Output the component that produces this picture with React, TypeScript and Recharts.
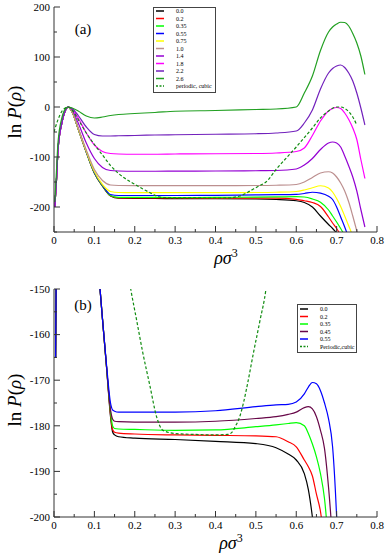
import React from "react";
import { LineChart, Line, XAxis, YAxis } from "recharts";

const FONT = "Liberation Serif, DejaVu Serif, serif";
const AXIS = "#333";

// ticks
const X_TICKS = [0, 0.05, 0.1, 0.15, 0.2, 0.25, 0.3, 0.35, 0.4, 0.45, 0.5, 0.55, 0.6, 0.65, 0.7, 0.75, 0.8];
const Y_TICKS_A = [-250, -200, -150, -100, -50, 0, 50, 100, 150, 200];
const Y_TICKS_B = [-200, -195, -190, -185, -180, -175, -170, -165, -160, -155, -150];

// panel (a): shared x grid for the solid curves
const X_A = [0, 0.002, 0.006, 0.01, 0.02, 0.03, 0.035, 0.045, 0.06, 0.08, 0.1, 0.12, 0.14, 0.16, 0.2, 0.25, 0.3, 0.4, 0.5, 0.55, 0.6, 0.62, 0.64, 0.66, 0.68, 0.69, 0.7, 0.71, 0.72, 0.73, 0.74, 0.75, 0.76, 0.77];
const A_00 = [null, -200, -148, -85, -30, -4, 0, -10, -44, -90, -132, -158, -178, -182.5, -182.8, -183, -183.1, -183.5, -184, -185, -187.5, -191, -200, -218, -235, -243, -252, -262, null, null, null, null, null, null];
const A_02 = [null, -200, -148, -85, -30, -4, 0, -10, -44, -90, -132, -158, -177.5, -181.6, -181.8, -181.9, -182, -182.1, -182.2, -182.4, -184.6, -187.5, -191, -199, -220, -232, -243, -256, -270, null, null, null, null, null];
const A_035 = [null, -200, -148, -85, -30, -4, 0, -10, -44, -90, -132, -158, -177, -180.7, -180.8, -180.9, -181, -180.9, -180.2, -179.8, -179.3, -180, -184, -190.5, -206, -218, -230, -243, -257, -272, null, null, null, null];
const A_055 = [null, -200, -148, -85, -30, -4, 0, -10, -44, -90, -131, -157, -175, -177, -177, -177, -177, -176.7, -175.8, -175.4, -174.8, -173, -170.5, -172.3, -178.5, -185, -200, -220, -240, -262, null, null, null, null];
const A_075 = [null, -200, -148, -85, -30, -4, 0, -10, -44, -89, -129, -155, -169, -171, -171.2, -171.3, -171.3, -171.2, -171, -170.5, -169, -166, -161.5, -157.5, -162, -170, -183, -199, -218, -238, -258, null, null, null];
const A_10 = [null, -200, -148, -85, -30, -4, 0, -9, -42, -86, -125, -147, -156, -157, -157.3, -157.3, -157.3, -157.2, -157, -156.5, -155, -150, -141, -132, -129.5, -132, -140, -152, -168, -190, -218, -248, -280, null];
const A_14 = [null, -200, -148, -85, -30, -4, 0, -6, -32, -72, -103, -121, -127, -128, -128.5, -128.5, -128.3, -128, -127.5, -127, -124, -116, -103, -85, -72, -70, -72, -80, -98, -118, -140, -168, -205, -240];
const A_18 = [null, -200, -148, -85, -30, -4, 0, -4, -22, -52, -76, -89, -93, -94, -94.5, -94.5, -94, -93.5, -93, -92, -89, -82, -57, -28, -8, -3, -1, -3, -12, -25, -42, -65, -105, -143];
const A_22 = [null, -200, -148, -85, -30, -4, 0, -3, -17, -40, -55, -58, -58, -57.5, -57, -56, -55.5, -54.5, -53.5, -52, -48, -32, -6, 36, 68, 77, 82, 84, 79, 68, 52, 28, -2, -36];
const A_26 = [null, -190, -130, -70, -20, -2, 0, -2, -8, -18, -22, -20, -17, -15, -13, -11, -8.5, -7, -5, -4, 0, 28, 62, 113, 150, 160, 166, 169.5, 169, 162, 147, 128, 102, 65];

// periodic, cubic (used in both panels)
const X_PER = [0, 0.01, 0.02, 0.03, 0.035, 0.045, 0.06, 0.08, 0.1, 0.12, 0.14, 0.16, 0.19, 0.205, 0.22, 0.238, 0.254, 0.27, 0.3, 0.35, 0.4, 0.43, 0.44, 0.45, 0.46, 0.47, 0.48, 0.494, 0.51, 0.525, 0.55, 0.6, 0.64, 0.66, 0.68, 0.7, 0.71, 0.72, 0.74, 0.75];
const Y_PER = [-50, -25, -8, -1, 0, -6, -25, -52, -75, -96, -117, -133, -150, -157, -164, -171.4, -178, -181, -181.7, -181.9, -182, -181.9, -181.5, -180, -178, -174.7, -170.5, -164, -157, -150, -125, -80, -42, -22, -8, 0, 0, -3, -20, -36];

// panel (b)
const X_B = [0.004, 0.01, 0.03, 0.1, 0.114, 0.12, 0.13, 0.14, 0.145, 0.15, 0.16, 0.2, 0.3, 0.4, 0.5, 0.55, 0.58, 0.6, 0.62, 0.63, 0.64, 0.65, 0.66, 0.67, 0.68, 0.69, 0.7, 0.71, 0.72];
const B_00 = [-165, -85, -4, -133, -150, -156.5, -167, -178, -181.3, -182, -182.4, -182.7, -183, -183.4, -183.9, -184.8, -186.2, -187.5, -190.5, -194, -200, -208, -218, -230, -240, -250, -260, null, null];
const B_02 = [-165, -85, -4, -133, -150, -156.5, -167, -177.5, -180.8, -181.4, -181.6, -181.8, -182, -182.1, -182.2, -182.4, -183.5, -184.6, -187.5, -189, -191, -195, -198.8, -206, -215, -228, -243, -258, null];
const B_035 = [-165, -85, -4, -133, -150, -156.5, -167, -177, -180, -180.6, -180.7, -180.8, -181, -180.9, -180.2, -179.8, -179.5, -179.3, -180, -181.7, -184, -186.8, -190.5, -196, -206, -218, -230, -243, -257];
const B_045 = [-165, -85, -4, -133, -150, -156.5, -167, -176.5, -178.5, -179, -179.1, -179.2, -179.2, -179, -178.4, -178, -177.5, -177, -176, -175.8, -176.3, -178, -181, -185, -193.5, -205, -217, -230, null];
const B_055 = [-165, -85, -4, -133, -150, -156.5, -166.5, -175, -176.5, -176.8, -177, -177, -177, -176.7, -175.8, -175.4, -175.3, -174.8, -173, -171.5, -170.5, -170.8, -172.3, -175, -178.5, -184.6, -200, -225, null];

type Series = { name: string; color: string; xs: number[]; ys: (number | null)[]; dashed?: boolean };

const SERIES_A: Series[] = [
    { name: "0.0", color: "#000000", xs: X_A, ys: A_00 },
    { name: "0.2", color: "#ff0000", xs: X_A, ys: A_02 },
    { name: "0.35", color: "#00ff00", xs: X_A, ys: A_035 },
    { name: "0.55", color: "#0000ff", xs: X_A, ys: A_055 },
    { name: "0.75", color: "#ffff00", xs: X_A, ys: A_075 },
    { name: "1.0", color: "#bc8f8f", xs: X_A, ys: A_10 },
    { name: "1.4", color: "#9400d3", xs: X_A, ys: A_14 },
    { name: "1.8", color: "#ff00ff", xs: X_A, ys: A_18 },
    { name: "2.2", color: "#7221bc", xs: X_A, ys: A_22 },
    { name: "2.6", color: "#22a022", xs: X_A, ys: A_26 },
    { name: "periodic, cubic", color: "#108c10", xs: X_PER, ys: Y_PER, dashed: true },
];

const SERIES_B: Series[] = [
    { name: "0.0", color: "#000000", xs: X_B, ys: B_00 },
    { name: "0.2", color: "#ff0000", xs: X_B, ys: B_02 },
    { name: "0.35", color: "#00ff00", xs: X_B, ys: B_035 },
    { name: "0.45", color: "#670748", xs: X_B, ys: B_045 },
    { name: "0.55", color: "#0000ff", xs: X_B, ys: B_055 },
    { name: "Periodic,cubic", color: "#108c10", xs: X_PER, ys: Y_PER, dashed: true },
];

function pts(xs: number[], ys: (number | null)[]) {
    return xs.map((x, i) => ({ x, y: ys[i] })).filter((p) => p.y != null);
}

function isMajor(v: number, step: number) {
    return Math.abs(v / step - Math.round(v / step)) < 1e-6;
}

function XTick(props: any) {
    const { x, y, payload, dir, label } = props;
    const v = payload.value;
    const major = isMajor(v, 0.1);
    const len = major ? 6 : 3;
    return (
        <g>
            <line x1={x} x2={x} y1={y} y2={y + dir * len} stroke={AXIS} />
            {label && major && (
                <text x={x} y={y + 12} textAnchor="middle" style={{ fontFamily: FONT }} fontSize={11} fill="#000">
                    {v === 0 ? "0" : v.toFixed(1)}
                </text>
            )}
        </g>
    );
}

function YTick(props: any) {
    const { x, y, payload, dir, label, step } = props;
    const v = payload.value;
    const major = isMajor(v, step);
    const len = major ? 6 : 3;
    return (
        <g>
            <line x1={x} x2={x + dir * len} y1={y} y2={y} stroke={AXIS} />
            {label && major && (
                <text x={x - 4} y={y} dy="0.35em" textAnchor="end" style={{ fontFamily: FONT }} fontSize={11} fill="#000">
                    {String(v)}
                </text>
            )}
        </g>
    );
}

function Panel({ series, yDomain, yTicks, yStep, height, top, xAxisHeight }: {
    series: Series[]; yDomain: [number, number]; yTicks: number[]; yStep: number;
    height: number; top: number; xAxisHeight: number;
}) {
    return (
        <LineChart width={390} height={height} margin={{ top, right: 13, bottom: 0, left: 0 }}>
            <XAxis xAxisId="b" type="number" dataKey="x" domain={[0, 0.8]} ticks={X_TICKS} interval={0}
                allowDataOverflow height={xAxisHeight} tickSize={0} tickMargin={0} tickLine={false}
                axisLine={{ stroke: AXIS }} tick={(p: any) => <XTick {...p} dir={-1} label />} />
            <XAxis xAxisId="t" orientation="top" type="number" dataKey="x" domain={[0, 0.8]} ticks={X_TICKS}
                interval={0} allowDataOverflow height={0} tickSize={0} tickMargin={0} tickLine={false}
                axisLine={{ stroke: AXIS }} tick={(p: any) => <XTick {...p} dir={1} />} />
            <YAxis yAxisId="l" type="number" domain={yDomain} ticks={yTicks} interval={0} allowDataOverflow
                width={54} tickSize={0} tickMargin={0} tickLine={false} axisLine={{ stroke: AXIS }}
                tick={(p: any) => <YTick {...p} dir={1} step={yStep} label />} />
            <YAxis yAxisId="r" orientation="right" type="number" domain={yDomain} ticks={yTicks} interval={0}
                allowDataOverflow width={0} tickSize={0} tickMargin={0} tickLine={false}
                axisLine={{ stroke: AXIS }} tick={(p: any) => <YTick {...p} dir={-1} step={yStep} />} />
            {series.map((s) => (
                <Line key={s.name} xAxisId="b" yAxisId="l" data={pts(s.xs, s.ys)} dataKey="y" type="monotone"
                    stroke={s.color} strokeWidth={1.2} strokeDasharray={s.dashed ? "3 2" : undefined}
                    dot={false} activeDot={false} isAnimationActive={false} />
            ))}
        </LineChart>
    );
}

function LegendBox({ series, x, y, w, h, rowTop }: { series: Series[]; x: number; y: number; w: number; h: number; rowTop: number }) {
    return (
        <g transform={`translate(${x},${y})`}>
            <rect x={0.5} y={0.5} width={w - 1} height={h - 1} fill="#fff" stroke="#444" />
            {series.map((s, i) => {
                const cy = rowTop + i * 7.5;
                return (
                    <g key={s.name}>
                        <line x1={3} x2={11} y1={cy} y2={cy} stroke={s.color} strokeWidth={1.5}
                            strokeDasharray={s.dashed ? "2 1.5" : undefined} />
                        <text x={23} y={cy + 2} style={{ fontFamily: FONT }} fontSize={6} fill="#000">{s.name}</text>
                    </g>
                );
            })}
        </g>
    );
}

function YTitle({ cx, cy }: { cx: number; cy: number }) {
    return (
        <text x={cx} y={cy} transform={`rotate(-90, ${cx}, ${cy})`} textAnchor="middle" style={{ fontFamily: FONT }} fontSize={19} fill="#000">
            ln <tspan fontStyle="italic">P</tspan>(<tspan fontStyle="italic">ρ</tspan>)
        </text>
    );
}

function XTitle({ cx, y }: { cx: number; y: number }) {
    return (
        <text x={cx} y={y} textAnchor="middle" style={{ fontFamily: FONT }} fontSize={18} fill="#000">
            <tspan fontStyle="italic">ρσ</tspan><tspan fontSize={12} dy={-7}>3</tspan>
        </text>
    );
}

export default function App() {
    return (
        <div style={{ position: "absolute", left: 0, top: 0, width: 390, height: 554, background: "#fff" }}>
            <div style={{ position: "absolute", left: 0, top: 0 }}>
                <Panel series={SERIES_A} yDomain={[-250, 200]} yTicks={Y_TICKS_A} yStep={100}
                    height={270} top={7} xAxisHeight={38} />
            </div>
            <div style={{ position: "absolute", left: 0, top: 270 }}>
                <Panel series={SERIES_B} yDomain={[-200, -150]} yTicks={Y_TICKS_B} yStep={10}
                    height={284} top={19} xAxisHeight={37} />
            </div>
            <svg width={390} height={554} style={{ position: "absolute", left: 0, top: 0, pointerEvents: "none" }}>
                <text x={83} y={34} textAnchor="middle" style={{ fontFamily: FONT }} fontSize={15} fill="#000">(a)</text>
                <text x={83} y={310} textAnchor="middle" style={{ fontFamily: FONT }} fontSize={15} fill="#000">(b)</text>
                <YTitle cx={21} cy={112} />
                <YTitle cx={21} cy={400} />
                <XTitle cx={226} y={264} />
                <XTitle cx={231} y={549} />
                <LegendBox series={SERIES_A} x={153} y={7} w={63} h={86} rowTop={4} />
                <LegendBox series={SERIES_B} x={297} y={304} w={60} h={49} rowTop={5} />
            </svg>
        </div>
    );
}
